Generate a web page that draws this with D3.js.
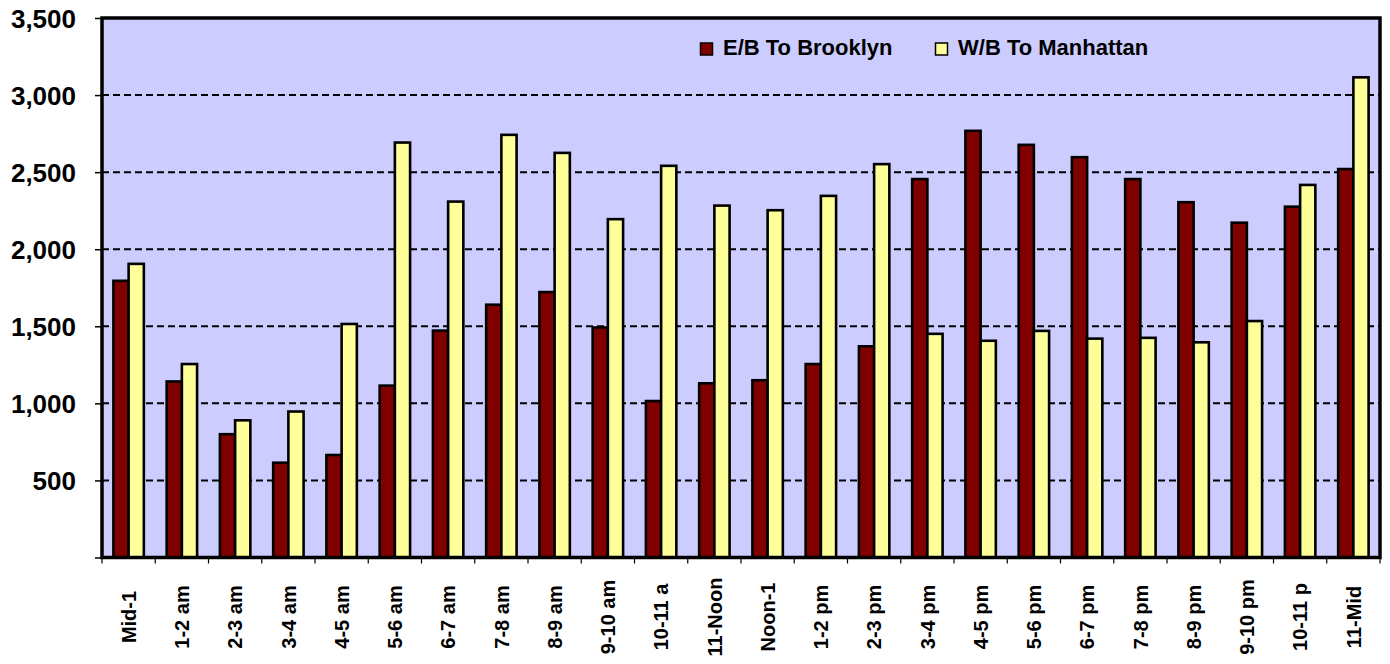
<!DOCTYPE html>
<html>
<head>
<meta charset="utf-8">
<script src="https://cdn.jsdelivr.net/npm/d3@7"></script>
<style>
  html, body { margin: 0; padding: 0; background: #ffffff; }
  svg { display: block; }
  text { font-family: "Liberation Sans", Arial, sans-serif; font-weight: bold; fill: #000; }
</style>
</head>
<body>
<svg id="chart" width="1390" height="664"></svg>
<script>
// Hourly traffic volumes by direction
const hours = ["Mid-1", "1-2 am", "2-3 am", "3-4 am", "4-5 am", "5-6 am", "6-7 am", "7-8 am",
  "8-9 am", "9-10 am", "10-11 a", "11-Noon", "Noon-1", "1-2 pm", "2-3 pm", "3-4 pm",
  "4-5 pm", "5-6 pm", "6-7 pm", "7-8 pm", "8-9 pm", "9-10 pm", "10-11 p", "11-Mid"];
const toBrooklyn = [1795, 1142, 800, 615, 665, 1115, 1472, 1640, 1722, 1492, 1015, 1130,
  1150, 1255, 1370, 2455, 2768, 2677, 2597, 2455, 2305, 2172, 2276, 2520];
const toManhattan = [1905, 1255, 890, 947, 1515, 2692, 2309, 2742, 2625, 2195, 2541, 2283,
  2253, 2346, 2552, 1451, 1406, 1470, 1420, 1425, 1396, 1534, 2417, 3115];
const seriesNames = ["E/B To Brooklyn", "W/B To Manhattan"];
const seriesColors = ["#800000", "#FFFF99"];
const yTicks = [500, 1000, 1500, 2000, 2500, 3000, 3500];

const svg = d3.select("#chart");
const plot = { left: 102, right: 1380, top: 18, bottom: 557.5 };

const x = d3.scaleBand().domain(hours).range([plot.left, plot.right]).padding(0);
const inner = d3.scaleBand().domain(seriesNames).range([0, x.bandwidth()])
  .paddingInner(0).paddingOuter(0.75);
const y = d3.scaleLinear().domain([0, 3500]).range([plot.bottom, plot.top]);

// plot background
svg.append("rect")
  .attr("x", plot.left).attr("y", plot.top)
  .attr("width", plot.right - plot.left).attr("height", plot.bottom - plot.top)
  .attr("fill", "#CCCCFF");

// dashed gridlines
svg.append("g").selectAll("line")
  .data(yTicks.filter(d => d < 3500))
  .join("line")
  .attr("x1", plot.left).attr("x2", plot.right)
  .attr("y1", d => y(d)).attr("y2", d => y(d))
  .attr("stroke", "#000").attr("stroke-width", 2)
  .attr("stroke-dasharray", "7,4");

// bars
const rows = hours.map((h, i) => ({ hour: h, values: [toBrooklyn[i], toManhattan[i]] }));
const groups = svg.append("g").selectAll("g")
  .data(rows).join("g")
  .attr("transform", d => `translate(${x(d.hour)},0)`);
groups.selectAll("rect")
  .data(d => d.values.map((v, k) => ({ name: seriesNames[k], value: v, k })))
  .join("rect")
  .attr("x", d => inner(d.name))
  .attr("width", inner.bandwidth())
  .attr("y", d => y(d.value))
  .attr("height", d => y(0) - y(d.value))
  .attr("fill", d => seriesColors[d.k])
  .attr("stroke", "#000").attr("stroke-width", 2.6);

// plot frame
svg.append("rect")
  .attr("x", plot.left).attr("y", plot.top)
  .attr("width", plot.right - plot.left).attr("height", plot.bottom - plot.top)
  .attr("fill", "none").attr("stroke", "#000").attr("stroke-width", 3.5);

// y axis
const yAxis = d3.axisLeft(y).tickValues([0, ...yTicks]).tickSize(7).tickPadding(0)
  .tickFormat(d => d === 0 ? "" : d3.format(",")(d));
const yg = svg.append("g").attr("transform", `translate(${plot.left},0)`).call(yAxis);
yg.select(".domain").remove();
yg.selectAll(".tick line").attr("stroke", "#000").attr("stroke-width", 1.5);
yg.selectAll(".tick text")
  .attr("x", -26).attr("dy", "0.36em")
  .style("font-size", "26px").style("font-family", "'Liberation Sans', Arial, sans-serif")
  .style("font-weight", "bold").attr("fill", "#000");

// x axis: ticks at category boundaries
const boundaries = d3.range(hours.length + 1).map(i => plot.left + i * x.step());
svg.append("g").selectAll("line")
  .data(boundaries).join("line")
  .attr("x1", d => d).attr("x2", d => d)
  .attr("y1", plot.bottom).attr("y2", plot.bottom + 6)
  .attr("stroke", "#000").attr("stroke-width", 1.2);

svg.append("g").selectAll("text")
  .data(hours).join("text")
  .attr("transform", d => `translate(${x(d) + x.bandwidth() / 2},617) rotate(-90)`)
  .attr("text-anchor", "middle")
  .attr("dy", "0.36em")
  .style("font-size", "20px")
  .text(d => d);

// legend
const legendItems = [
  { name: seriesNames[0], color: seriesColors[0], x: 700 },
  { name: seriesNames[1], color: seriesColors[1], x: 935 }
];
const lg = svg.append("g").selectAll("g").data(legendItems).join("g")
  .attr("transform", d => `translate(${d.x},0)`);
lg.append("rect")
  .attr("x", 0.5).attr("y", 43).attr("width", 12).attr("height", 12)
  .attr("fill", d => d.color).attr("stroke", "#000").attr("stroke-width", 1.5);
lg.append("text")
  .attr("x", 23).attr("y", 55)
  .style("font-size", "22px")
  .text(d => d.name);
</script>
</body>
</html>
